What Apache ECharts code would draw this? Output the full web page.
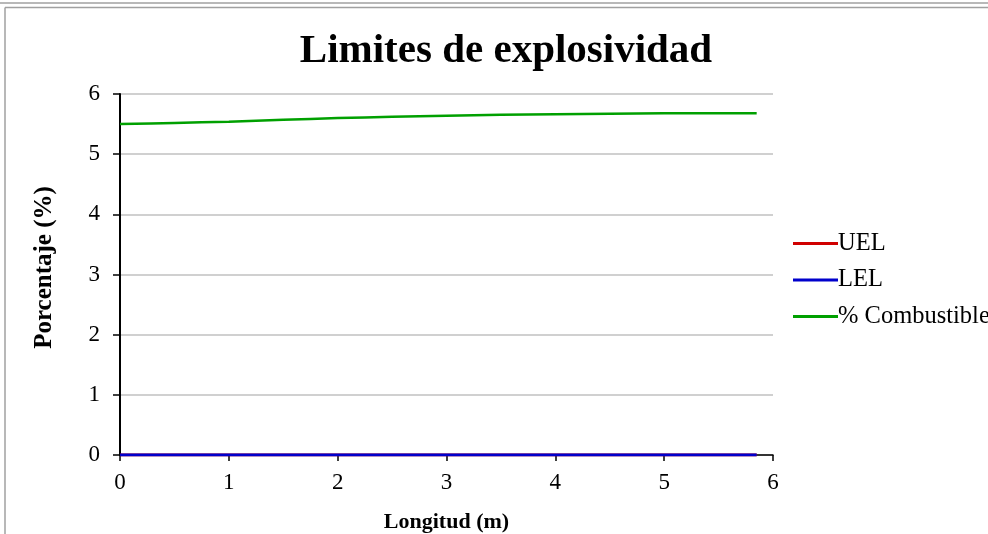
<!DOCTYPE html>
<html>
<head>
<meta charset="utf-8">
<script src="https://cdn.jsdelivr.net/npm/echarts@6/dist/echarts.min.js"></script>
<style>html,body{margin:0;padding:0;background:#fff}#c{width:988px;height:534px}</style>
</head>
<body>
<div id="c"></div>
<script>
var title = 'Limites de explosividad';
var xName = 'Longitud (m)';
var yName = 'Porcentaje (%)';
var seriesNames = ['UEL', 'LEL', '% Combustible'];
var longitud = [0, 0.5, 1, 1.5, 2, 2.5, 3, 3.5, 4, 4.5, 5, 5.5, 5.85];
var uel = [0, 0, 0, 0, 0, 0, 0, 0, 0, 0, 0, 0, 0];
var lel = [0, 0, 0, 0, 0, 0, 0, 0, 0, 0, 0, 0, 0];
var combustible = [5.50, 5.52, 5.54, 5.57, 5.60, 5.62, 5.64, 5.655, 5.665, 5.673, 5.678, 5.68, 5.68];
var colors = ['#d00000', '#0000cc', '#00a000'];

function pairs(xs, ys) { return xs.map(function (x, i) { return [x, ys[i]]; }); }

var chart = echarts.init(document.getElementById('c'), null, {renderer: 'canvas'});
var font = 'Liberation Serif, Times New Roman, serif';
chart.setOption({
  backgroundColor: '#fff',
  animation: false,
  title: {
    text: title, left: 501, top: 26, textAlign: 'center',
    textStyle: {fontFamily: font, fontSize: 41, fontWeight: 'bold', color: '#000'}
  },
  grid: {left: 120, right: 215, top: 94, bottom: 79, containLabel: false, outerBoundsMode: 'none'},
  legend: {
    orient: 'vertical', left: 788, top: 226,
    itemWidth: 45, itemHeight: 3, itemGap: 11.5,
    icon: 'rect',
    textStyle: {fontFamily: font, fontSize: 24.5, color: '#000', lineHeight: 25, padding: [0, 0, 0, -5]},
    data: seriesNames
  },
  xAxis: {
    type: 'value', min: 0, max: 6, interval: 1,
    name: xName, nameLocation: 'middle', nameGap: 56,
    nameTextStyle: {fontFamily: font, fontSize: 22, fontWeight: 'bold', color: '#000'},
    axisLine: {show: true, onZero: false, lineStyle: {color: '#000', width: 1.5}},
    axisTick: {show: true, inside: false, length: 6, lineStyle: {color: '#000', width: 1.5}},
    axisLabel: {fontFamily: font, fontSize: 23, color: '#000', margin: 16},
    splitLine: {show: false}
  },
  yAxis: {
    type: 'value', min: 0, max: 6, interval: 1,
    name: yName, nameLocation: 'middle', nameGap: 63, nameRotate: 90,
    nameTextStyle: {fontFamily: font, fontSize: 25, fontWeight: 'bold', color: '#000', padding: [0, 0, 0, 14]},
    axisLine: {show: true, lineStyle: {color: '#000', width: 2}},
    axisTick: {show: true, inside: false, length: 7, lineStyle: {color: '#000', width: 1.5}},
    axisLabel: {fontFamily: font, fontSize: 23, color: '#000', margin: 20},
    splitLine: {show: true, lineStyle: {color: '#c0c0c0', width: 1.5}}
  },
  series: [
    {name: seriesNames[0], type: 'line', data: pairs(longitud, uel), symbol: 'none', color: colors[0], lineStyle: {width: 3, color: colors[0]}},
    {name: seriesNames[1], type: 'line', data: pairs(longitud, lel), symbol: 'none', color: colors[1], lineStyle: {width: 3, color: colors[1]}},
    {name: seriesNames[2], type: 'line', data: pairs(longitud, combustible), symbol: 'none', smooth: 0.3, color: colors[2], lineStyle: {width: 2.5, color: colors[2]}}
  ],
  graphic: [
    {type: 'line', shape: {x1: 0, y1: 3, x2: 988, y2: 3}, style: {stroke: '#a0a0a0', lineWidth: 1.5}},
    {type: 'line', shape: {x1: 5, y1: 7.5, x2: 988, y2: 7.5}, style: {stroke: '#a0a0a0', lineWidth: 1.5}},
    {type: 'line', shape: {x1: 5, y1: 7.5, x2: 5, y2: 534}, style: {stroke: '#a0a0a0', lineWidth: 1.5}}
  ]
});
</script>
</body>
</html>
